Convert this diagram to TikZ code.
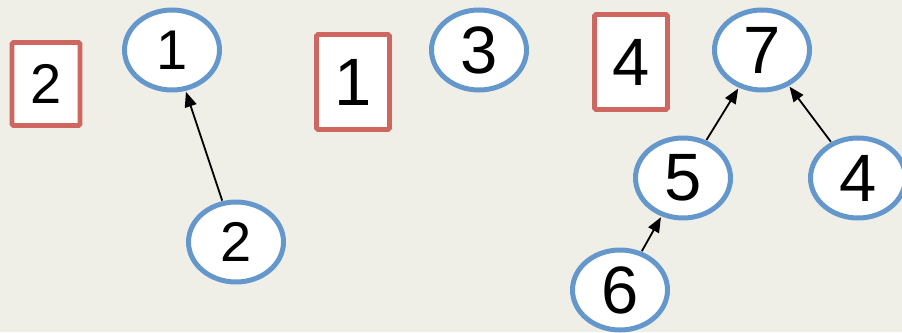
\documentclass[tikz,border=0pt]{standalone}
\usepackage{fontspec}
\setmainfont{Liberation Sans}
\usetikzlibrary{shapes.geometric,arrows.meta}
\definecolor{bgc}{RGB}{240,239,231}
\definecolor{boxred}{RGB}{206,103,96}
\definecolor{ellblue}{RGB}{100,152,204}
\tikzset{
  big/.style={font=\fontsize{67}{70}\selectfont},
  small/.style={font=\fontsize{56}{60}\selectfont},
  tnode/.style={ellipse, draw=ellblue, line width=5pt, fill=white, minimum width=95pt, minimum height=80pt, inner sep=0pt},
  qbox/.style={rectangle, draw=boxred, line width=4.8pt, fill=white, rounded corners=1.5pt, inner sep=0pt},
  arr/.style={-{Triangle[length=15pt,width=12pt]}, line width=1.8pt, black, shorten <=0.5pt, shorten >=1pt}
}
\begin{document}
\begin{tikzpicture}[x=1pt,y=-1pt]
\useasboundingbox (0,0) rectangle (902,332);
\fill[bgc] (0,0) rectangle (902,332);
\clip (0,0) rectangle (902,332);
% left group
\node[qbox, small, minimum width=68pt, minimum height=83pt] (b2) at (46,84) {2};
\node[tnode, small] (e1) at (172,50) {1};
\node[tnode, small] (e2) at (236,242) {2};
% middle group
\node[qbox, big, minimum width=73pt, minimum height=95pt] (b1) at (353,82) {1};
\node[tnode, big] (e3) at (479,50) {3};
% right group
\node[qbox, big, minimum width=73pt, minimum height=95pt] (b4) at (631,62) {4};
\node[tnode, big] (e7) at (762,50) {7};
\node[tnode, big] (e5) at (683,178) {5};
\node[tnode, big] (e4) at (858,178) {4};
\node[tnode, big] (e6) at (620,290) {6};
% connectors
\draw[arr] (e2) -- (e1);
\draw[arr] (e5) -- (e7);
\draw[arr] (e4) -- (e7);
\draw[arr] (e6) -- (e5);
\end{tikzpicture}
\end{document}
